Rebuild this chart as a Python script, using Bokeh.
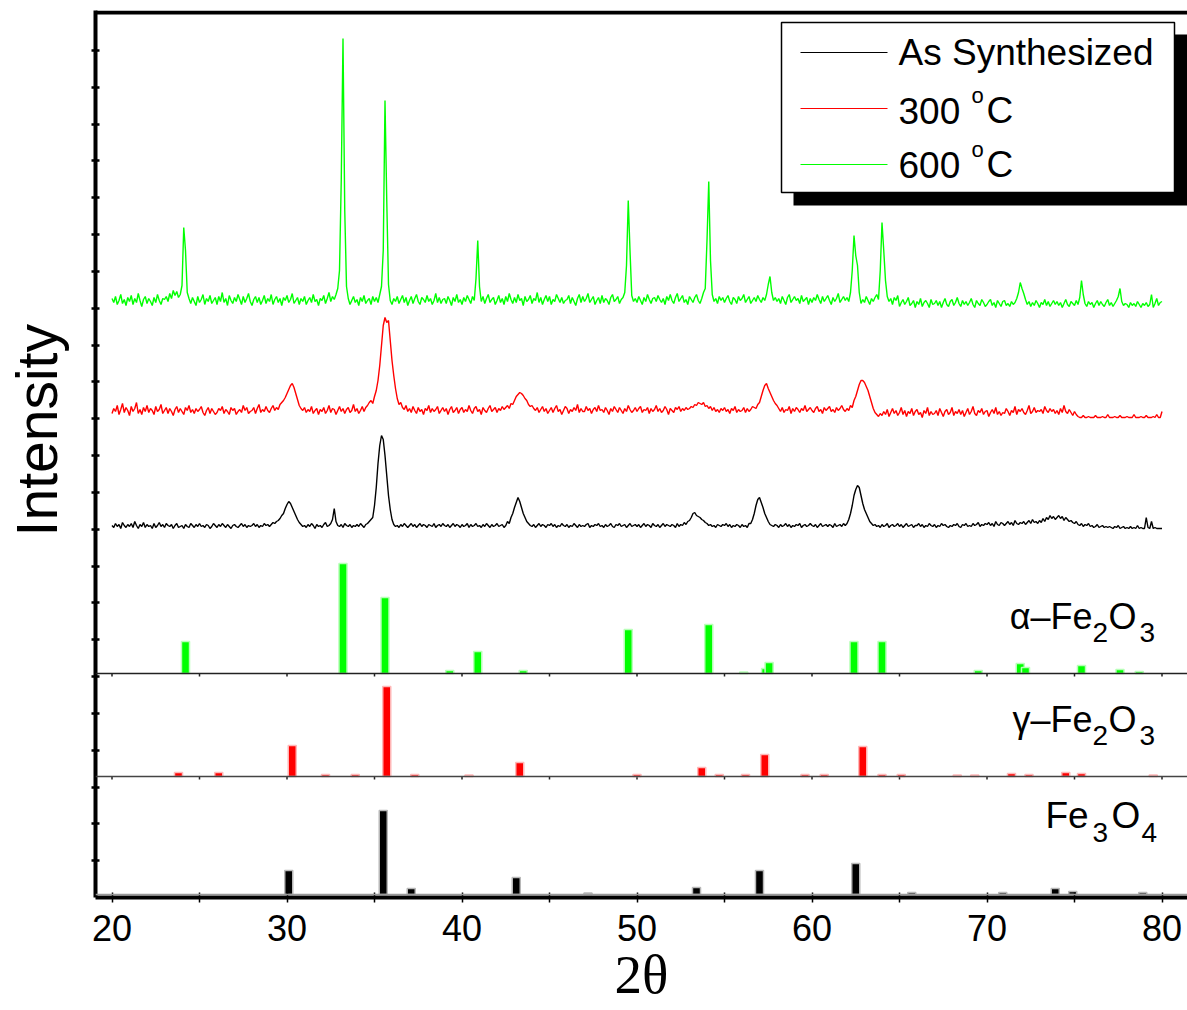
import numpy as np
from bokeh.plotting import figure
from bokeh.models import Range1d, FixedTicker, Span, Label, CustomJSTickFormatter
from bokeh.embed import file_html
from bokeh.resources import INLINE

# ---------------- data ----------------
# XRD patterns: intensity (arbitrary units) sampled every 0.1 deg, 20.0 .. 80.0
# one row per degree (n.0 .. n.9), last row is 80.0
green_600C = [
    [12, 8, 14, 6, 10, 16, 7, 11, 5, 13],
    [9, 15, 6, 12, 8, 17, 10, 4, 11, 14],
    [7, 12, 9, 5, 13, 8, 16, 10, 6, 12],
    [11, 14, 9, 17, 12, 20, 15, 19, 13, 16],
    [25, 83, 60, 18, 12, 7, 13, 9, 5, 14],
    [8, 11, 16, 6, 12, 9, 15, 7, 10, 13],
    [6, 14, 9, 18, 8, 12, 5, 15, 10, 7],
    [13, 9, 16, 11, 6, 14, 8, 12, 17, 9],
    [5, 11, 14, 8, 13, 6, 10, 15, 7, 12],
    [9, 16, 6, 11, 14, 8, 12, 5, 13, 10],
    [15, 8, 11, 17, 7, 10, 13, 6, 12, 9],
    [14, 6, 10, 13, 8, 16, 9, 11, 5, 12],
    [10, 15, 7, 12, 18, 9, 14, 11, 16, 22],
    [40, 130, 272, 100, 24, 12, 6, 10, 14, 8],
    [11, 5, 13, 9, 15, 7, 10, 12, 6, 14],
    [9, 13, 8, 16, 24, 60, 210, 110, 26, 10],
    [6, 12, 9, 14, 7, 11, 15, 8, 13, 5],
    [10, 14, 7, 12, 16, 9, 6, 13, 11, 8],
    [15, 9, 12, 6, 10, 17, 8, 13, 7, 11],
    [12, 7, 14, 10, 5, 13, 9, 16, 8, 11],
    [6, 13, 9, 15, 11, 7, 14, 10, 32, 70],
    [24, 9, 14, 7, 12, 16, 8, 11, 13, 6],
    [10, 15, 8, 12, 6, 14, 9, 17, 11, 7],
    [13, 8, 16, 10, 12, 5, 14, 9, 11, 15],
    [7, 12, 10, 18, 8, 13, 6, 11, 15, 9],
    [14, 6, 11, 9, 16, 12, 8, 13, 7, 10],
    [11, 15, 7, 13, 9, 5, 12, 16, 8, 14],
    [9, 12, 17, 8, 11, 14, 6, 10, 13, 7],
    [15, 8, 12, 10, 6, 13, 16, 9, 11, 14],
    [7, 11, 13, 18, 45, 110, 60, 15, 9, 12],
    [8, 14, 10, 6, 13, 9, 16, 11, 7, 12],
    [13, 9, 15, 11, 8, 12, 6, 14, 10, 16],
    [10, 7, 13, 17, 9, 12, 15, 8, 11, 6],
    [14, 11, 8, 13, 16, 10, 7, 12, 18, 22],
    [70, 129, 50, 16, 9, 12, 7, 14, 10, 13],
    [8, 12, 15, 9, 6, 13, 11, 7, 14, 10],
    [12, 16, 8, 11, 14, 7, 10, 13, 9, 15],
    [11, 8, 13, 10, 16, 26, 34, 18, 10, 13],
    [9, 12, 7, 14, 10, 6, 13, 16, 8, 11],
    [14, 10, 12, 7, 15, 9, 11, 13, 6, 12],
    [8, 13, 10, 16, 11, 7, 14, 9, 12, 15],
    [10, 6, 13, 9, 12, 17, 8, 11, 14, 10],
    [13, 9, 18, 40, 75, 55, 45, 18, 7, 11],
    [8, 14, 10, 6, 12, 9, 13, 16, 11, 40],
    [88, 60, 30, 14, 9, 12, 6, 13, 10, 15],
    [4, 8, 11, 6, 9, 13, 5, 7, 10, 3],
    [9, 6, 12, 4, 8, 10, 7, 3, 11, 6],
    [7, 10, 5, 9, 3, 8, 12, 6, 4, 9],
    [11, 5, 8, 13, 7, 4, 10, 6, 9, 5],
    [8, 12, 6, 3, 10, 7, 5, 11, 8, 4],
    [6, 9, 11, 5, 8, 3, 10, 7, 4, 9],
    [10, 5, 7, 4, 9, 6, 8, 12, 18, 28],
    [22, 17, 11, 6, 9, 4, 8, 5, 10, 7],
    [3, 8, 6, 11, 5, 9, 4, 7, 10, 6],
    [9, 5, 8, 3, 7, 11, 6, 4, 9, 7],
    [5, 10, 6, 13, 30, 16, 7, 4, 9, 6],
    [8, 3, 7, 10, 5, 9, 6, 4, 8, 11],
    [5, 8, 4, 7, 10, 14, 22, 9, 5, 7],
    [6, 3, 8, 5, 7, 4, 9, 6, 3, 7],
    [5, 8, 4, 6, 16, 3, 7, 12, 5, 8],
    [9],
]
red_300C = [
    [7, 12, 9, 15, 6, 11, 17, 8, 13, 10],
    [5, 14, 9, 12, 18, 7, 11, 6, 13, 9],
    [15, 8, 12, 10, 6, 14, 9, 11, 16, 7],
    [10, 13, 7, 12, 9, 5, 11, 14, 8, 12],
    [9, 6, 13, 10, 15, 8, 11, 7, 12, 9],
    [11, 14, 8, 5, 10, 13, 7, 12, 9, 6],
    [8, 12, 10, 14, 7, 11, 9, 6, 13, 10],
    [12, 6, 9, 11, 8, 15, 10, 13, 7, 9],
    [10, 13, 7, 12, 16, 8, 11, 9, 14, 10],
    [8, 12, 15, 10, 13, 11, 16, 18, 20, 23],
    [27, 31, 35, 37, 33, 27, 21, 15, 12, 10],
    [13, 8, 11, 9, 14, 7, 10, 12, 6, 11],
    [9, 13, 7, 10, 15, 8, 12, 11, 6, 10],
    [14, 9, 12, 7, 11, 13, 8, 10, 16, 9],
    [12, 7, 10, 14, 9, 13, 15, 18, 20, 17],
    [24, 30, 40, 55, 75, 95, 103, 98, 100, 80],
    [60, 45, 32, 22, 16, 18, 13, 11, 15, 9],
    [12, 8, 14, 10, 7, 13, 9, 11, 6, 12],
    [10, 15, 8, 12, 9, 11, 14, 7, 10, 13],
    [9, 12, 6, 11, 14, 8, 10, 13, 7, 11],
    [13, 8, 11, 9, 15, 10, 7, 12, 14, 9],
    [11, 6, 13, 10, 8, 12, 15, 9, 11, 13],
    [8, 12, 10, 14, 11, 13, 15, 12, 17, 16],
    [20, 24, 26, 28, 27, 25, 22, 20, 16, 14],
    [15, 12, 10, 13, 8, 11, 14, 9, 12, 7],
    [10, 13, 8, 12, 15, 9, 11, 6, 10, 14],
    [12, 7, 11, 9, 13, 10, 16, 8, 12, 9],
    [9, 14, 10, 12, 7, 11, 13, 9, 15, 10],
    [11, 8, 13, 10, 6, 12, 9, 14, 11, 8],
    [13, 10, 7, 12, 9, 15, 11, 8, 10, 13],
    [9, 12, 14, 8, 11, 10, 13, 7, 12, 9],
    [11, 15, 9, 12, 8, 10, 14, 11, 6, 12],
    [10, 8, 13, 11, 14, 9, 12, 10, 13, 11],
    [12, 14, 13, 16, 15, 18, 17, 16, 18, 14],
    [15, 12, 14, 10, 13, 9, 11, 8, 12, 10],
    [13, 9, 11, 7, 12, 10, 14, 8, 11, 9],
    [10, 13, 8, 12, 9, 11, 14, 13, 12, 16],
    [18, 24, 30, 35, 37, 32, 28, 24, 20, 17],
    [15, 12, 9, 13, 8, 11, 10, 14, 7, 12],
    [9, 13, 11, 8, 12, 10, 15, 9, 11, 13],
    [10, 8, 12, 14, 9, 11, 7, 13, 10, 12],
    [14, 9, 11, 8, 13, 10, 12, 15, 11, 9],
    [12, 10, 15, 13, 20, 24, 30, 36, 40, 40],
    [38, 34, 30, 24, 18, 12, 8, 6, 4, 7],
    [5, 9, 6, 11, 4, 8, 12, 7, 10, 5],
    [8, 13, 6, 10, 4, 9, 7, 12, 5, 9],
    [11, 6, 8, 3, 10, 7, 13, 5, 9, 6],
    [7, 10, 5, 12, 8, 4, 9, 11, 6, 8],
    [13, 5, 9, 7, 11, 6, 10, 4, 8, 12],
    [6, 9, 14, 7, 5, 10, 8, 12, 6, 9],
    [10, 4, 8, 11, 7, 13, 6, 9, 5, 8],
    [7, 12, 9, 5, 10, 8, 14, 6, 11, 9],
    [12, 8, 6, 10, 15, 7, 9, 13, 8, 10],
    [9, 11, 7, 14, 10, 8, 12, 9, 11, 7],
    [10, 6, 12, 8, 15, 9, 7, 11, 8, 5],
    [9, 6, 4, 3, 3, 5, 3, 3, 4, 3],
    [3, 3, 5, 3, 3, 3, 4, 3, 3, 6],
    [3, 3, 3, 4, 3, 3, 5, 3, 3, 3],
    [4, 3, 3, 3, 6, 3, 3, 3, 4, 3],
    [3, 5, 3, 3, 3, 4, 3, 6, 3, 3],
    [9],
]
black_as_synth = [
    [10, 8, 12, 9, 11, 7, 13, 10, 8, 11],
    [9, 12, 8, 14, 10, 7, 11, 9, 13, 8],
    [11, 9, 10, 7, 12, 8, 10, 13, 9, 11],
    [8, 12, 10, 9, 11, 7, 10, 12, 8, 9],
    [10, 7, 11, 9, 8, 12, 10, 8, 11, 9],
    [12, 9, 10, 8, 11, 10, 7, 9, 12, 10],
    [8, 11, 9, 12, 10, 8, 11, 9, 7, 10],
    [11, 9, 8, 10, 12, 9, 11, 8, 10, 9],
    [10, 12, 9, 11, 8, 10, 9, 12, 10, 11],
    [9, 11, 13, 12, 14, 15, 17, 20, 22, 27],
    [31, 34, 32, 28, 24, 20, 16, 13, 11, 9],
    [10, 8, 11, 9, 12, 10, 7, 11, 9, 10],
    [8, 11, 13, 9, 10, 12, 16, 27, 14, 10],
    [9, 11, 8, 12, 10, 9, 11, 8, 10, 9],
    [11, 9, 12, 10, 8, 11, 12, 14, 16, 18],
    [30, 48, 72, 90, 100, 96, 80, 60, 40, 26],
    [16, 11, 9, 10, 8, 11, 9, 12, 10, 8],
    [10, 12, 9, 11, 8, 10, 12, 9, 11, 10],
    [8, 11, 10, 9, 12, 8, 10, 11, 9, 12],
    [10, 9, 11, 8, 10, 12, 9, 11, 10, 8],
    [11, 9, 10, 12, 8, 11, 9, 10, 12, 9],
    [10, 8, 11, 9, 12, 10, 8, 11, 9, 10],
    [12, 9, 10, 11, 8, 10, 14, 12, 18, 22],
    [28, 33, 38, 34, 28, 22, 18, 14, 12, 10],
    [9, 11, 8, 10, 12, 9, 11, 10, 8, 11],
    [10, 12, 9, 11, 8, 10, 9, 12, 10, 9],
    [11, 8, 10, 9, 12, 10, 8, 11, 9, 10],
    [9, 11, 12, 8, 10, 9, 11, 10, 12, 9],
    [10, 8, 11, 9, 10, 12, 9, 8, 11, 10],
    [12, 9, 10, 11, 8, 10, 12, 9, 10, 11],
    [9, 11, 8, 10, 12, 9, 11, 10, 8, 12],
    [10, 9, 11, 8, 10, 12, 9, 11, 10, 9],
    [11, 10, 8, 12, 9, 11, 10, 13, 11, 14],
    [15, 18, 22, 23, 20, 19, 18, 16, 15, 13],
    [12, 10, 11, 9, 10, 8, 11, 10, 9, 11],
    [10, 12, 9, 11, 8, 10, 9, 11, 10, 8],
    [11, 9, 10, 8, 12, 12, 16, 22, 30, 36],
    [38, 33, 28, 22, 18, 14, 11, 10, 9, 11],
    [10, 8, 11, 9, 10, 12, 9, 11, 8, 10],
    [9, 11, 10, 12, 8, 10, 11, 9, 10, 12],
    [10, 9, 11, 8, 10, 12, 9, 10, 11, 9],
    [11, 10, 8, 12, 9, 10, 11, 9, 12, 10],
    [12, 16, 22, 30, 40, 46, 50, 48, 40, 32],
    [26, 22, 18, 14, 12, 10, 11, 9, 10, 8],
    [11, 9, 10, 12, 8, 10, 11, 9, 10, 12],
    [9, 11, 8, 10, 12, 9, 10, 11, 8, 10],
    [10, 12, 9, 11, 8, 10, 9, 12, 10, 9],
    [11, 8, 10, 9, 12, 10, 11, 9, 8, 10],
    [9, 11, 10, 12, 9, 8, 11, 10, 12, 9],
    [10, 9, 12, 10, 11, 13, 9, 11, 10, 12],
    [11, 13, 10, 12, 9, 14, 11, 10, 13, 12],
    [10, 12, 14, 11, 13, 10, 15, 12, 11, 13],
    [12, 14, 11, 13, 15, 12, 16, 13, 14, 12],
    [15, 13, 17, 14, 18, 16, 20, 17, 19, 16],
    [18, 20, 17, 19, 15, 18, 16, 14, 15, 13],
    [12, 14, 11, 10, 12, 9, 11, 10, 12, 9],
    [10, 8, 9, 11, 8, 9, 10, 8, 9, 8],
    [9, 8, 7, 9, 8, 10, 7, 8, 9, 7],
    [8, 7, 9, 7, 8, 7, 10, 7, 8, 7],
    [7, 18, 8, 7, 14, 7, 8, 7, 7, 7],
    [7],
]
series_names = ["As Synthesized", "300", "600"]
series_rows = [black_as_synth, red_300C, green_600C]
series_colors = ["#000000", "#ff0000", "#00ff00"]

# reference patterns: peak position (2-theta) and intensity (arbitrary units)
alpha_pos = [24.2, 33.2, 35.6, 39.3, 40.9, 43.5, 49.5, 54.1, 56.1, 57.35, 57.55,
             62.4, 64.0, 69.5, 71.9, 72.2, 75.4, 77.6, 78.7]
alpha_int = [32, 110, 76, 3, 22, 3, 44, 49, 1.5, 5, 11, 32, 32, 3, 10, 6, 8, 4, 2]
gamma_pos = [23.8, 26.1, 30.3, 32.2, 33.9, 35.7, 37.3, 40.4, 43.3, 50.0, 53.7, 54.7,
             56.2, 57.3, 59.6, 60.7, 62.9, 64.0, 65.1, 68.3, 69.3, 71.4, 72.4, 74.5,
             75.4, 79.5]
gamma_int = [4, 4, 31, 2, 2, 90, 2, 1.5, 14, 2, 9, 2, 2, 22, 2, 2, 30, 2, 2, 1.5,
             1.5, 3, 2, 4, 3, 1.5]
fe3o4_pos = [30.1, 35.5, 37.1, 43.1, 47.2, 53.4, 57.0, 62.5, 65.7, 70.9, 73.9, 74.9, 78.9]
fe3o4_int = [24, 84, 6, 17, 1.5, 7, 24, 31, 2, 2, 6, 3, 2]

x_tick_major = [20, 30, 40, 50, 60, 70, 80]
x_tick_minor = [25, 35, 45, 55, 65, 75]

# ---------------- layout helpers (page pixels -> data) ----------------
PX20, PXDEG, PYBOT = 111.5, 17.5, 897.0
def X(px):
    return 20 + (px - PX20) / PXDEG
def Y(py):
    return PYBOT - py

series_offsets = [Y(535), Y(420), Y(310)]
alpha_base, gamma_base, fe_base = Y(673), Y(776), Y(894)

FONT = "Liberation Sans"
LABEL_DY = 13  # correction for label baseline placement

p = figure(width=1187, height=1010,
           x_range=Range1d(X(95), X(1187)), y_range=Range1d(0, Y(10)),
           output_backend="svg", toolbar_location=None,
           min_border_left=95, min_border_right=0, min_border_top=10, min_border_bottom=113)
p.outline_line_color = None
p.grid.visible = False
p.background_fill_color = "white"
p.border_fill_color = "white"

xa = p.xaxis[0]
xa.ticker = FixedTicker(ticks=x_tick_major, minor_ticks=x_tick_minor)
xa.axis_line_width = 4
xa.axis_line_color = "black"
xa.major_tick_in = 5
xa.major_tick_out = 5
xa.minor_tick_in = 5
xa.minor_tick_out = 5
xa.major_tick_line_width = 1.5
xa.minor_tick_line_width = 1.5
xa.major_label_text_font = FONT
xa.major_label_text_font_size = "36px"
xa.major_label_text_color = "black"
xa.major_label_standoff = 12
xa.axis_label = "2θ"
xa.axis_label_text_font = "Liberation Serif"
xa.axis_label_text_font_size = "55px"
xa.axis_label_text_font_style = "normal"
xa.axis_label_text_color = "black"
xa.axis_label_standoff = 0

ya = p.yaxis[0]
ya.ticker = FixedTicker(ticks=[k * 36.83 for k in range(1, 24)], minor_ticks=[])
ya.axis_line_width = 4
ya.axis_line_color = "black"
ya.major_tick_in = 4
ya.major_tick_out = 4
ya.major_tick_line_width = 2.5
ya.minor_tick_line_color = None
ya.formatter = CustomJSTickFormatter(code="return ''")
ya.major_label_standoff = 0
ya.axis_label = "\u00a0\u00a0\u00a0Intensity"
ya.axis_label_text_font = FONT
ya.axis_label_text_font_size = "57px"
ya.axis_label_text_font_style = "normal"
ya.axis_label_text_color = "black"
ya.axis_label_standoff = 23

# top border
p.add_layout(Span(location=Y(12), dimension="width", line_color="black", line_width=4))

# panel separators / baselines
p.add_layout(Span(location=alpha_base, dimension="width", line_color="#222222", line_width=1.5))
p.add_layout(Span(location=gamma_base, dimension="width", line_color="#444444", line_width=1.5))
p.add_layout(Span(location=fe_base, dimension="width", line_color="#999999", line_width=1.5))
all_ticks = sorted(x_tick_major + x_tick_minor)
for base in (alpha_base, gamma_base):
    p.segment(x0=all_ticks, x1=all_ticks, y0=[base - 3] * len(all_ticks),
              y1=[base] * len(all_ticks), line_color="#222222", line_width=1.5)

# reference bars
bar_sets = [(alpha_pos, alpha_int, alpha_base, "#00ff00", "#b8ffb8"),
            (gamma_pos, gamma_int, gamma_base, "#ff0000", "#ffb8b8"),
            (fe3o4_pos, fe3o4_int, fe_base, "#000000", "#b8b8b8")]
for pos, inten, base, col, halo in bar_sets:
    p.vbar(x=pos, width=0.46, bottom=base, top=[base + v for v in inten],
           fill_color=col, line_color=halo, line_width=1.5)

# XRD patterns
for rows, off, col in zip(series_rows, series_offsets, series_colors):
    vals = np.concatenate([np.asarray(r, dtype=float) for r in rows])
    xs = np.round(20.0 + 0.1 * np.arange(len(vals)), 2)
    p.line(xs, off + vals, line_color=col, line_width=1.4)

# legend (shadowed box)
p.quad(left=X(793), right=X(1195), top=Y(34), bottom=Y(205), fill_color="black", line_color=None)
p.quad(left=X(781), right=X(1174), top=Y(22), bottom=Y(192), fill_color="white",
       line_color="black", line_width=1.5)
row_line_y = [52, 108, 164]
row_base_y = [65, 123, 177]
p.segment(x0=[X(800)] * 3, x1=[X(887)] * 3, y0=[Y(v) for v in row_line_y],
          y1=[Y(v) for v in row_line_y], line_color=series_colors, line_width=1.2)

def lab(txt, px, py, size, align="left", font=FONT):
    p.add_layout(Label(x=X(px), y=Y(py - LABEL_DY), text=txt, text_font=font,
                       text_font_size=f"{size}px", text_color="black",
                       text_align=align, text_baseline="alphabetic"))

lab(series_names[0], 898, row_base_y[0], 37)
for name, yb in zip(series_names[1:], row_base_y[1:]):
    lab(name, 898, yb, 37)
    lab("o", 971, yb - 15, 22)
    lab("C", 986, yb, 37)

# phase labels
for base_py, greek in ((629, "α"), (732, "γ")):
    lab(greek + "–Fe", 1092, base_py, 36, align="right")
    lab("2", 1092, base_py + 16, 28)
    lab("O", 1108, base_py, 36)
    lab("3", 1139, base_py + 16, 28)
lab("Fe", 1045, 828, 37)
lab("3", 1092, 845, 28)
lab("O", 1111, 828, 37)
lab("4", 1141, 845, 28)

open("out.html", "w").write(file_html(p, INLINE))
